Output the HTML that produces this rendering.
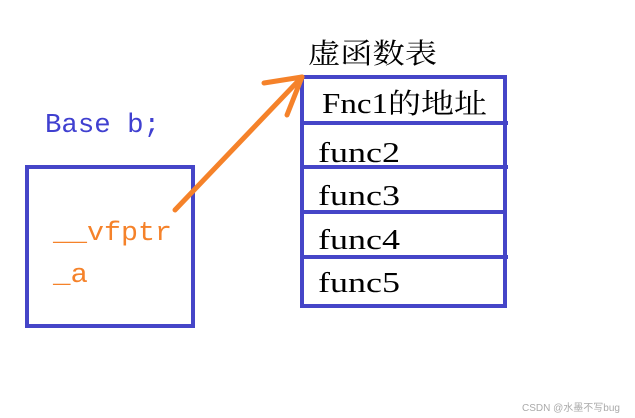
<!DOCTYPE html>
<html><head><meta charset="utf-8"><style>
html,body{margin:0;padding:0;background:#fff;width:635px;height:418px;overflow:hidden}
</style></head><body>
<svg width="635" height="418" xmlns="http://www.w3.org/2000/svg">
<rect width="635" height="418" fill="#fff"/>
<g fill="none" stroke="#4545c8" stroke-width="4">
<rect x="27" y="167" width="166" height="159"/>
<rect x="302" y="77" width="203" height="229"/>
<line x1="302" y1="123" x2="508" y2="123"/>
<line x1="302" y1="167" x2="508" y2="167"/>
<line x1="302" y1="212" x2="505" y2="212"/>
<line x1="302" y1="257" x2="508" y2="257"/>
</g>
<g stroke="#f5822a" stroke-width="5" stroke-linecap="round" fill="none">
<line x1="175" y1="210" x2="302" y2="77"/>
<line x1="264" y1="83" x2="302" y2="77"/>
<line x1="287" y1="115" x2="302" y2="77"/>
</g>
<text x="45" y="132" font-family="Liberation Mono, monospace" font-size="27" fill="#4040d0" textLength="115" lengthAdjust="spacingAndGlyphs">Base b;</text>
<text x="53" y="240" font-family="Liberation Mono, monospace" font-size="27" fill="#f5822a" textLength="119" lengthAdjust="spacingAndGlyphs">__vfptr</text>
<text x="53" y="282" font-family="Liberation Mono, monospace" font-size="27" fill="#f5822a" textLength="35" lengthAdjust="spacingAndGlyphs">_a</text>
<g font-family="Liberation Serif, 'Noto Serif CJK SC', serif" font-size="28" fill="#000" lengthAdjust="spacingAndGlyphs">
<text x="308" y="63" textLength="129" lengthAdjust="spacingAndGlyphs">虚函数表</text>
<text x="322" y="113" textLength="165" lengthAdjust="spacingAndGlyphs">Fnc1的地址</text>
<text x="318" y="162" textLength="82" lengthAdjust="spacingAndGlyphs">func2</text>
<text x="318" y="205" textLength="82" lengthAdjust="spacingAndGlyphs">func3</text>
<text x="318" y="249" textLength="82" lengthAdjust="spacingAndGlyphs">func4</text>
<text x="318" y="292" textLength="82" lengthAdjust="spacingAndGlyphs">func5</text>
</g>
<text x="522" y="411" font-family="Liberation Sans, 'Noto Sans CJK SC', sans-serif" font-size="10" fill="#aaa">CSDN @水墨不写bug</text>
</svg>
</body></html>
